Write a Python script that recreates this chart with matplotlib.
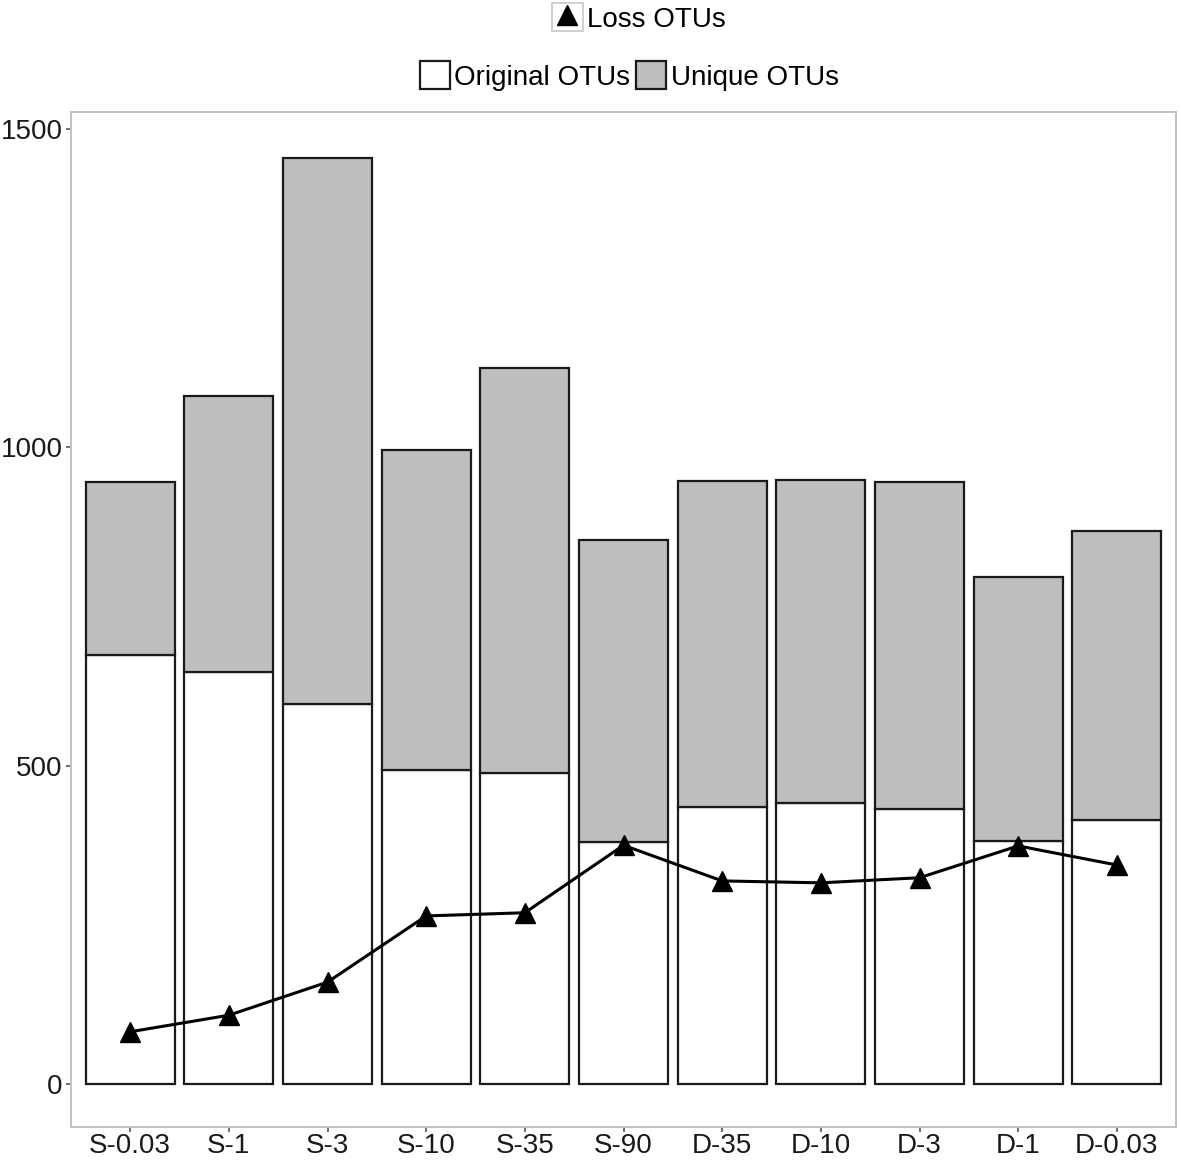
import numpy as np
import matplotlib.pyplot as plt
from matplotlib.patches import Patch
from matplotlib.lines import Line2D
from matplotlib.legend_handler import HandlerTuple

plt.rcParams['font.family'] = ['Liberation Sans', 'DejaVu Sans']

samples = ['S-0.03', 'S-1', 'S-3', 'S-10', 'S-35', 'S-90',
           'D-35', 'D-10', 'D-3', 'D-1', 'D-0.03']
original = [674, 647, 597, 493, 489, 380, 435, 441, 432, 382, 415]
total = [946, 1081, 1455, 996, 1125, 855, 947, 949, 946, 797, 869]
loss = [82, 108, 160, 264, 269, 375, 319, 316, 324, 374, 344]

unique = np.array(total) - np.array(original)
x = np.arange(len(samples))

fig = plt.figure(figsize=(11.81, 11.64), dpi=100)
# panel from y=112 px to y=1127 px
ax = fig.add_axes([0.0601, 1 - 1127 / 1164, 0.9357, (1127 - 112) / 1164])

ax.bar(x, original, width=0.9, color='white', edgecolor='#1a1a1a', linewidth=1.6, zorder=2)
ax.bar(x, unique, bottom=original, width=0.9, color='#bebebe', edgecolor='#1a1a1a',
       linewidth=1.6, zorder=2)
ax.plot(x, loss, color='black', linewidth=2.2, marker='^', markersize=14, zorder=3)

ax.set_xlim(-0.6, len(samples) - 0.4)
ax.set_ylim(-67.6, 1527)
ax.set_xticks(x)
ax.set_xticklabels(samples)
ax.set_yticks([0, 500, 1000, 1500])
ax.tick_params(axis='both', labelsize=20, length=3.6, width=1.4, color='#6e6e6e',
               labelcolor='#1a1a1a')
ax.tick_params(axis='x', pad=0.8)
ax.tick_params(axis='y', pad=2.5)
for s in ax.spines.values():
    s.set_color('#bdbdbd')
    s.set_linewidth(1.3)

h_loss = (Patch(facecolor='white', edgecolor='#c8c8c8', linewidth=1.2),
          Line2D([], [], color='black', marker='^', markersize=15, linestyle='none'))
fig.legend([h_loss], ['Loss OTUs'], loc='center', bbox_to_anchor=(0.541, 0.9845),
           frameon=False, fontsize=20, handlelength=1.1, handleheight=1.15,
           handletextpad=0.15, handler_map={tuple: HandlerTuple(ndivide=1)})
h_orig = Patch(facecolor='white', edgecolor='#1a1a1a', linewidth=1.6)
h_uniq = Patch(facecolor='#bebebe', edgecolor='#1a1a1a', linewidth=1.6)
fig.legend([h_orig, h_uniq], ['Original OTUs', 'Unique OTUs'], loc='center',
           bbox_to_anchor=(0.5326, 0.9347), ncol=2, frameon=False, fontsize=20,
           handlelength=1.1, handleheight=1.15, handletextpad=0.15, columnspacing=0.2)

fig.savefig('out.png', dpi=100)
